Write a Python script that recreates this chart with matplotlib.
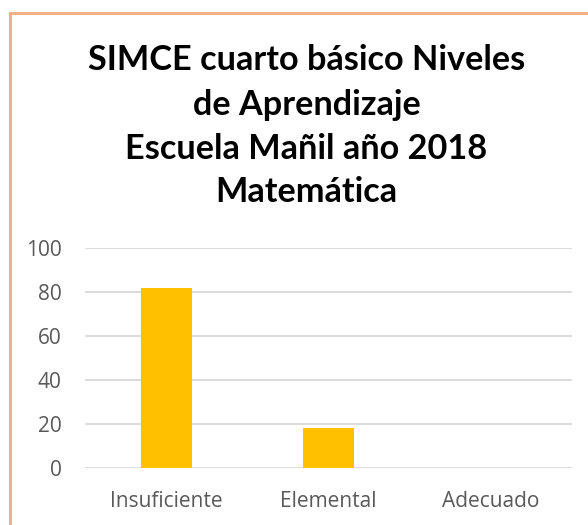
import matplotlib
matplotlib.use("Agg")
import matplotlib.pyplot as plt
from matplotlib.patches import Rectangle

categories = ["Insuficiente", "Elemental", "Adecuado"]
values = [81.8, 18.2, 0]
yticks = [0, 20, 40, 60, 80, 100]
title_lines = ["SIMCE cuarto básico Niveles", "de Aprendizaje",
               "Escuela Mañil año 2018", "Matemática"]

W, H = 588, 525
fig = plt.figure(figsize=(W / 100, H / 100), dpi=100)

# chart border (clipped on right/bottom)
fig.patches.append(Rectangle((9.5 / W, -0.1), 1.2, 1 - 12.5 / H + 0.1,
                             transform=fig.transFigure, fill=False,
                             edgecolor="#F4B183", linewidth=2.2))

ax = fig.add_axes([85.3 / W, 1 - 468.3 / H, 486.4 / W, 220.6 / H])
x = list(range(len(categories)))
ax.bar(x, values, width=0.315, color="#FFC000", zorder=3)
ax.set_xlim(-0.5, 2.5)
ax.set_ylim(0, 100)
ax.set_yticks(yticks)
ax.set_xticks(x)
ax.set_xticklabels(categories)
for s in ax.spines.values():
    s.set_visible(False)
ax.grid(axis="y", color="#D9D9D9", linewidth=1.3, zorder=0)
ax.tick_params(length=0, labelcolor="#595959", labelsize=15)
ax.tick_params(axis="y", pad=17)
ax.tick_params(axis="x", pad=16)
for lab in ax.get_xticklabels() + ax.get_yticklabels():
    lab.set_family("Open Sans")

ys = [60, 105, 149, 192]
for t, yy in zip(title_lines, ys):
    fig.text(306.5 / W, 1 - yy / H, t, ha="center", va="center",
             fontsize=24.7, fontweight="bold", family="Lato", color="black")

fig.savefig("out.png", dpi=100)
